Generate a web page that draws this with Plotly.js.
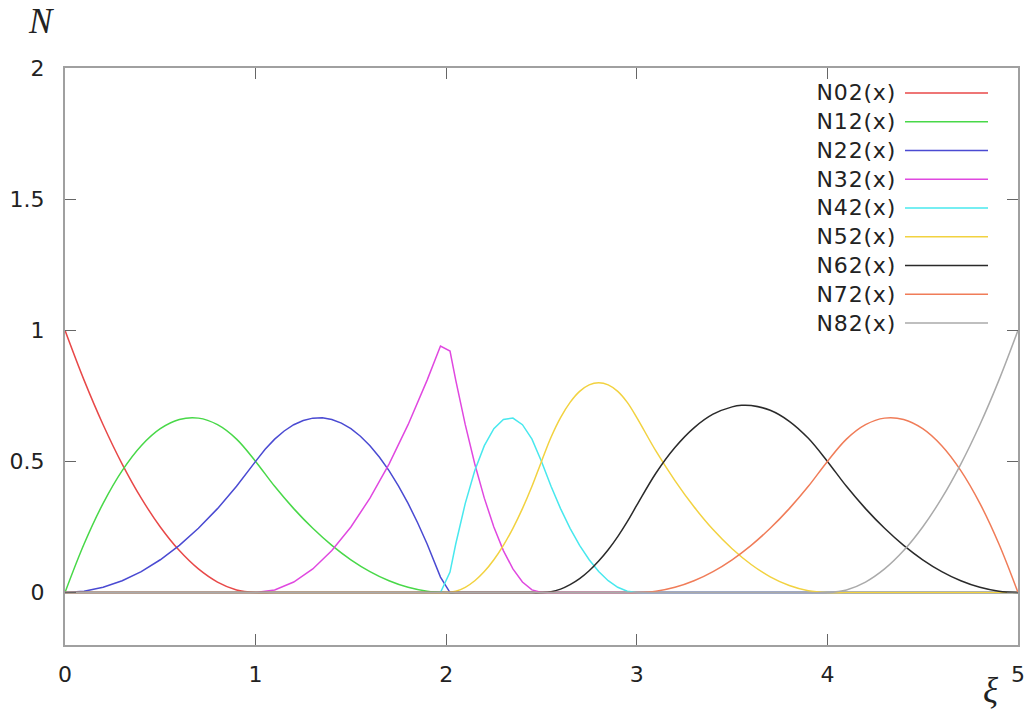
<!DOCTYPE html>
<html>
<head>
<meta charset="utf-8">
<script src="https://cdn.plot.ly/plotly-3.0.1.min.js"></script>
<style>
html,body{margin:0;padding:0;background:#fff;}
#chart{width:1031px;height:713px;}
</style>
</head>
<body>
<div id="chart"></div>
<script>
// Series names (legend labels)
const names = ["N02(x)","N12(x)","N22(x)","N32(x)","N42(x)","N52(x)","N62(x)","N72(x)","N82(x)"];

// x / y values
const x02 = [0,0.1,0.2,0.3,0.4,0.5,0.6,0.7,0.8,0.9,1.0,1.1,5];
const y02 = [1,0.81,0.64,0.49,0.36,0.25,0.16,0.09,0.04,0.01,0,0,0];

const x12 = [0,0.1,0.2,0.3,0.4,0.5,0.6,0.7,0.8,0.9,1.0,1.1,1.2,1.3,1.4,1.5,1.6,1.7,1.8,1.9,2.0,2.1,5];
const y12 = [0,0.185,0.34,0.465,0.56,0.625,0.66,0.665,0.64,0.585,0.5,0.405,0.32,0.245,0.18,0.125,0.08,0.045,0.02,0.005,0,0,0];

const x22 = [0,0.1,0.2,0.3,0.4,0.5,0.6,0.7,0.8,0.9,1.0,1.05,1.1,1.15,1.2,1.25,1.3,1.35,1.4,1.45,1.5,1.55,1.6,1.65,1.7,1.75,1.8,1.85,1.9,1.97,2.02,5];
const y22 = [0,0.005,0.02,0.045,0.08,0.125,0.18,0.245,0.32,0.405,0.5,0.546,0.585,0.616,0.64,0.656,0.665,0.666,0.66,0.646,0.625,0.596,0.56,0.516,0.465,0.406,0.34,0.266,0.185,0.059,0,0];

const x32 = [0,1.0,1.1,1.2,1.3,1.4,1.5,1.6,1.7,1.8,1.9,1.97,2.02,2.05,2.1,2.15,2.2,2.25,2.3,2.35,2.4,2.45,2.5,5];
const y32 = [0,0,0.01,0.04,0.09,0.16,0.25,0.36,0.49,0.64,0.81,0.94,0.921,0.81,0.64,0.49,0.36,0.25,0.16,0.09,0.04,0.01,0,0];

const x42 = [0,1.97,2.02,2.05,2.1,2.15,2.2,2.25,2.3,2.35,2.4,2.45,2.5,2.55,2.6,2.65,2.7,2.75,2.8,2.85,2.9,2.95,3.0,5];
const y42 = [0,0,0.078,0.185,0.34,0.465,0.56,0.625,0.66,0.665,0.64,0.585,0.5,0.405,0.32,0.245,0.18,0.125,0.08,0.045,0.02,0.005,0,0];

const x52 = [0,1.9,2.0,2.05,2.1,2.15,2.2,2.25,2.3,2.35,2.4,2.45,2.5,2.55,2.6,2.65,2.7,2.75,2.8,2.85,2.9,2.95,3.0,3.1,3.2,3.3,3.4,3.5,3.6,3.7,3.8,3.9,4.0,4.1,5];
const y52 = [0,0,0,0.005,0.02,0.045,0.08,0.125,0.18,0.245,0.32,0.405,0.5,0.592,0.667,0.725,0.767,0.792,0.8,0.792,0.767,0.725,0.667,0.54,0.427,0.327,0.24,0.167,0.107,0.06,0.027,0.007,0,0,0];

const x62 = [0,2.4,2.5,2.55,2.6,2.65,2.7,2.75,2.8,2.85,2.9,2.95,3.0,3.1,3.2,3.3,3.4,3.5,3.55,3.6,3.7,3.8,3.9,4.0,4.1,4.2,4.3,4.4,4.5,4.6,4.7,4.8,4.9,5.0];
const y62 = [0,0,0,0.003,0.013,0.03,0.053,0.083,0.12,0.163,0.213,0.27,0.333,0.455,0.553,0.628,0.68,0.708,0.714,0.713,0.695,0.653,0.588,0.5,0.405,0.32,0.245,0.18,0.125,0.08,0.045,0.02,0.005,0];

const x72 = [0,2.9,3.0,3.1,3.2,3.3,3.4,3.5,3.6,3.7,3.8,3.9,4.0,4.1,4.2,4.3,4.4,4.5,4.6,4.7,4.8,4.9,5.0];
const y72 = [0,0,0,0.005,0.02,0.045,0.08,0.125,0.18,0.245,0.32,0.405,0.5,0.585,0.64,0.665,0.66,0.625,0.56,0.465,0.34,0.185,0];

const x82 = [0,3.9,4.0,4.1,4.2,4.3,4.4,4.5,4.6,4.7,4.8,4.9,5.0];
const y82 = [0,0,0,0.01,0.04,0.09,0.16,0.25,0.36,0.49,0.64,0.81,1.0];

const xs = [x02,x12,x22,x32,x42,x52,x62,x72,x82];
const ys = [y02,y12,y22,y32,y42,y52,y62,y72,y82];

// Axis ticks
const xTickVals = [0,1,2,3,4,5];
const xTickText = ["0","1","2","3","4","5"];
const yTickVals = [0,0.5,1,1.5,2];
const yTickText = ["0","0.5","1","1.5","2"];

const colors = ["#e84848","#48d848","#4a4ad2","#e048e0","#48e8ee","#f2d240","#2a2a2a","#f07c58","#aaaaaa"];
// curves with sharp sampled corners are drawn as straight segments
const shapesByTrace = ["spline","spline","linear","linear","linear","spline","spline","spline","spline"];

const traces = names.map((n,i)=>({
  type:'scatter', mode:'lines', name:n, x:xs[i], y:ys[i],
  line:{color:colors[i], width:1.5, shape:shapesByTrace[i], smoothing:1},
  showlegend:false, hoverinfo:'skip'
}));

// legend drawn on the right, text before the line sample
const L = 65, R = 1018, T = 68, B = 645;
const px = v => (v - L)/(R - L);
const py = v => (B - v)/(B - T);
const annotations = [];
const shapes = [];
names.forEach((n,i)=>{
  const yy = 93 + i*28.75;
  annotations.push({xref:'paper', yref:'paper', x:px(896), y:py(yy), xanchor:'right', yanchor:'middle',
    text:n, showarrow:false, font:{family:'DejaVu Sans', size:22, color:'#222'}});
  shapes.push({type:'line', xref:'paper', yref:'paper', x0:px(905), x1:px(988), y0:py(yy), y1:py(yy),
    line:{color:colors[i], width:1.3}});
});
annotations.push({xref:'paper', yref:'paper', x:px(41), y:py(21), xanchor:'center', yanchor:'middle',
  text:'N', showarrow:false, font:{family:'Liberation Serif', size:35, color:'#222', style:'italic'}});
annotations.push({xref:'paper', yref:'paper', x:px(990), y:py(690), xanchor:'center', yanchor:'middle',
  text:'ξ', showarrow:false, font:{family:'Liberation Serif', size:35, color:'#222', style:'italic'}});

const axisCommon = {
  showline:true, mirror:'allticks', linecolor:'#a0a0a0', linewidth:2,
  ticks:'inside', ticklen:11, tickwidth:1.2, tickcolor:'#666',
  showgrid:false, zeroline:false, fixedrange:true,
  tickfont:{family:'DejaVu Sans', size:22, color:'#222'}
};

const layout = {
  width:1031, height:713,
  margin:{l:L, r:1031-R, t:T, b:713-B},
  paper_bgcolor:'#fff', plot_bgcolor:'#fff',
  showlegend:false,
  xaxis:Object.assign({}, axisCommon, {range:[0,5], tickmode:'array', tickvals:xTickVals, ticktext:xTickText, ticklabelstandoff:9}),
  yaxis:Object.assign({}, axisCommon, {range:[-0.2,2], tickmode:'array', tickvals:yTickVals, ticktext:yTickText, ticklabelstandoff:14}),
  annotations:annotations, shapes:shapes
};

Plotly.newPlot('chart', traces, layout, {staticPlot:true, displayModeBar:false}).then(()=>{
  document.querySelectorAll('#chart .annotation-text').forEach(t=>{
    if (/^N\d2\(x\)$/.test(t.textContent)) t.style.letterSpacing = '0.8px';
  });
});
</script>
</body>
</html>
